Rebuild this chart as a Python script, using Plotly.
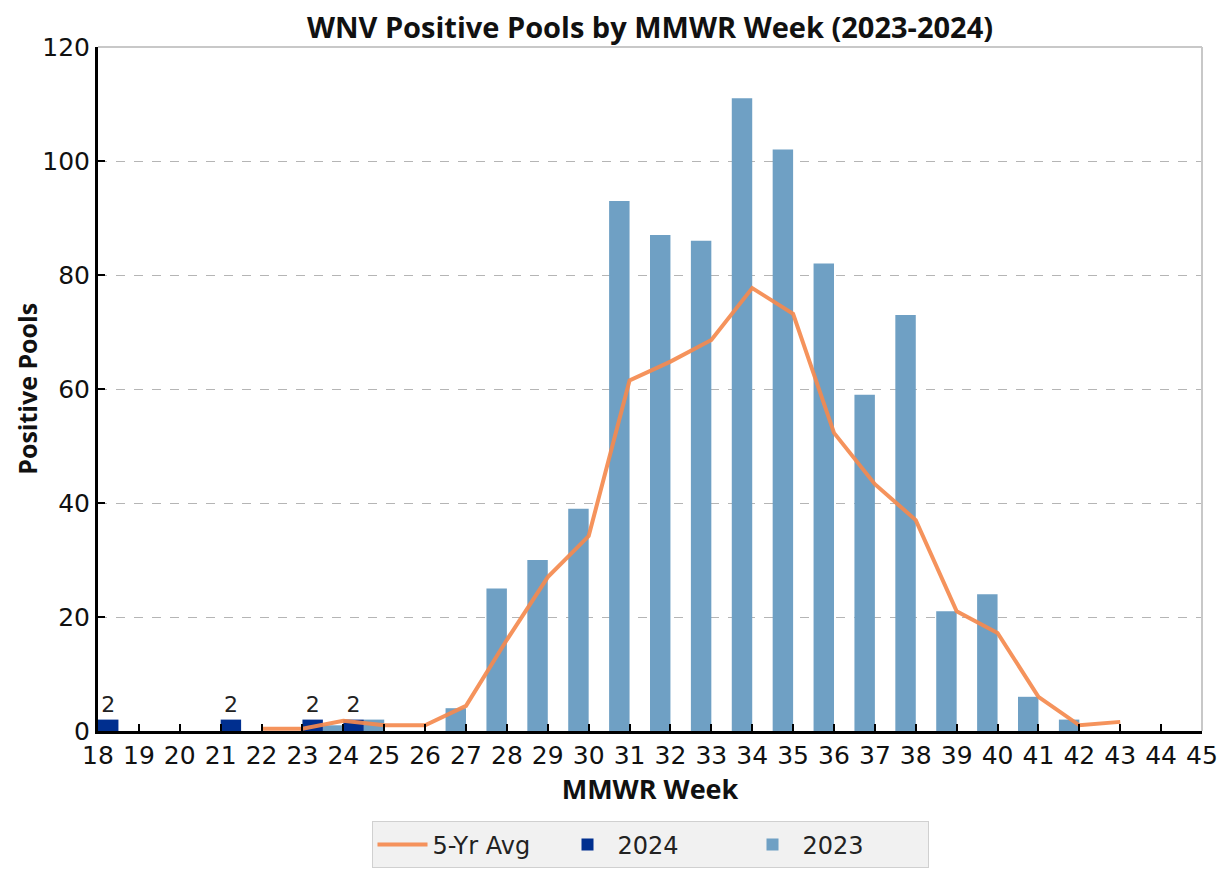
import plotly.graph_objects as go

weeks_2023 = [24, 25, 27, 28, 29, 30, 31, 32, 33, 34, 35, 36, 37, 38, 39, 40, 41, 42]
pools_2023 = [1, 2, 4, 25, 30, 39, 93, 87, 86, 111, 102, 82, 59, 73, 21, 24, 6, 2]

weeks_2024 = [18, 21, 23, 24]
pools_2024 = [2, 2, 2, 2]

weeks_avg = [22, 23, 24, 25, 26, 27, 28, 29, 30, 31, 32, 33, 34, 35, 36, 37, 38, 39, 40, 41, 42, 43]
avg_5yr = [0.4, 0.4, 1.8, 1.0, 1.0, 4.4, 16, 27, 34.2, 61.5, 64.8, 68.6, 77.7, 73.2, 52.3, 43.3, 37, 21, 17.2, 6, 1, 1.6]

x_ticks = list(range(18, 46))
y_ticks = [0, 20, 40, 60, 80, 100, 120]

tick_font = dict(family="DejaVu Sans", size=25, color="#111")
bold_font = "Open Sans"

fig = go.Figure()
fig.add_trace(go.Bar(
    x=weeks_2023, y=pools_2023, name="2023", width=0.5, offset=-0.5,
    marker=dict(color="#6fa0c4", line=dict(width=0))))
fig.add_trace(go.Bar(
    x=weeks_2024, y=pools_2024, name="2024", width=0.5, offset=0,
    marker=dict(color="#002f8f", line=dict(width=0)),
    text=[str(v) for v in pools_2024], textposition="outside",
    textfont=dict(family="DejaVu Sans", size=22, color="#222"), cliponaxis=False))
fig.add_trace(go.Scatter(
    x=weeks_avg, y=avg_5yr, mode="lines", name="5-Yr Avg", opacity=0.92,
    line=dict(color="#f58a4f", width=4), cliponaxis=False))

# page body adds an 8px offset, so the figure is 8px smaller
fig.update_layout(
    width=1217, height=869,
    paper_bgcolor="white", plot_bgcolor="white",
    margin=dict(l=90, r=23, t=39, b=146, autoexpand=False),
    barmode="overlay",
    title=dict(text="<b>WNV Positive Pools by MMWR Week (2023-2024)</b>",
               x=0.5, xref="paper", xanchor="center", y=0.989, yanchor="top",
               font=dict(family=bold_font, size=29, color="#111")),
    showlegend=True,
    legend=dict(orientation="h", x=0.5, xanchor="center", y=-0.132, yanchor="top",
                bgcolor="#f1f1f1", bordercolor="#d0d0d0", borderwidth=1,
                font=dict(family="DejaVu Sans", size=24, color="#222"),
                traceorder="reversed", itemwidth=50, entrywidth=120,
                tracegroupgap=0),
    xaxis=dict(range=[18, 45], tickvals=x_ticks, ticktext=[str(t) for t in x_ticks],
               ticks="inside", ticklen=7, tickwidth=2, tickcolor="black",
               showline=True, linecolor="black", linewidth=3, showgrid=False,
               zeroline=False, tickfont=tick_font, automargin=False,
               title=dict(text="<b>MMWR Week</b>", standoff=4,
                          font=dict(family=bold_font, size=27, color="#111"))),
    yaxis=dict(range=[0, 120], tickvals=y_ticks,
               ticks="inside", ticklen=7, tickwidth=2, tickcolor="black",
               showline=True, linecolor="black", linewidth=3,
               showgrid=True, gridcolor="#b5b5b5", griddash="dash", gridwidth=1,
               zeroline=False, tickfont=tick_font, automargin=False),
    annotations=[
        dict(text="<b>Positive Pools</b>", textangle=-90, showarrow=False,
             xref="paper", yref="paper", x=-0.0645, y=0.5, xanchor="center", yanchor="middle",
             font=dict(family=bold_font, size=25, color="#111")),
    ],
    shapes=[
        dict(type="line", xref="paper", yref="paper", x0=0, x1=1, y0=1, y1=1,
             line=dict(color="#c8c8c8", width=2)),
        dict(type="line", xref="paper", yref="paper", x0=1, x1=1, y0=0, y1=1,
             line=dict(color="#c8c8c8", width=2)),
    ],
)

fig.write_html("out.html")
